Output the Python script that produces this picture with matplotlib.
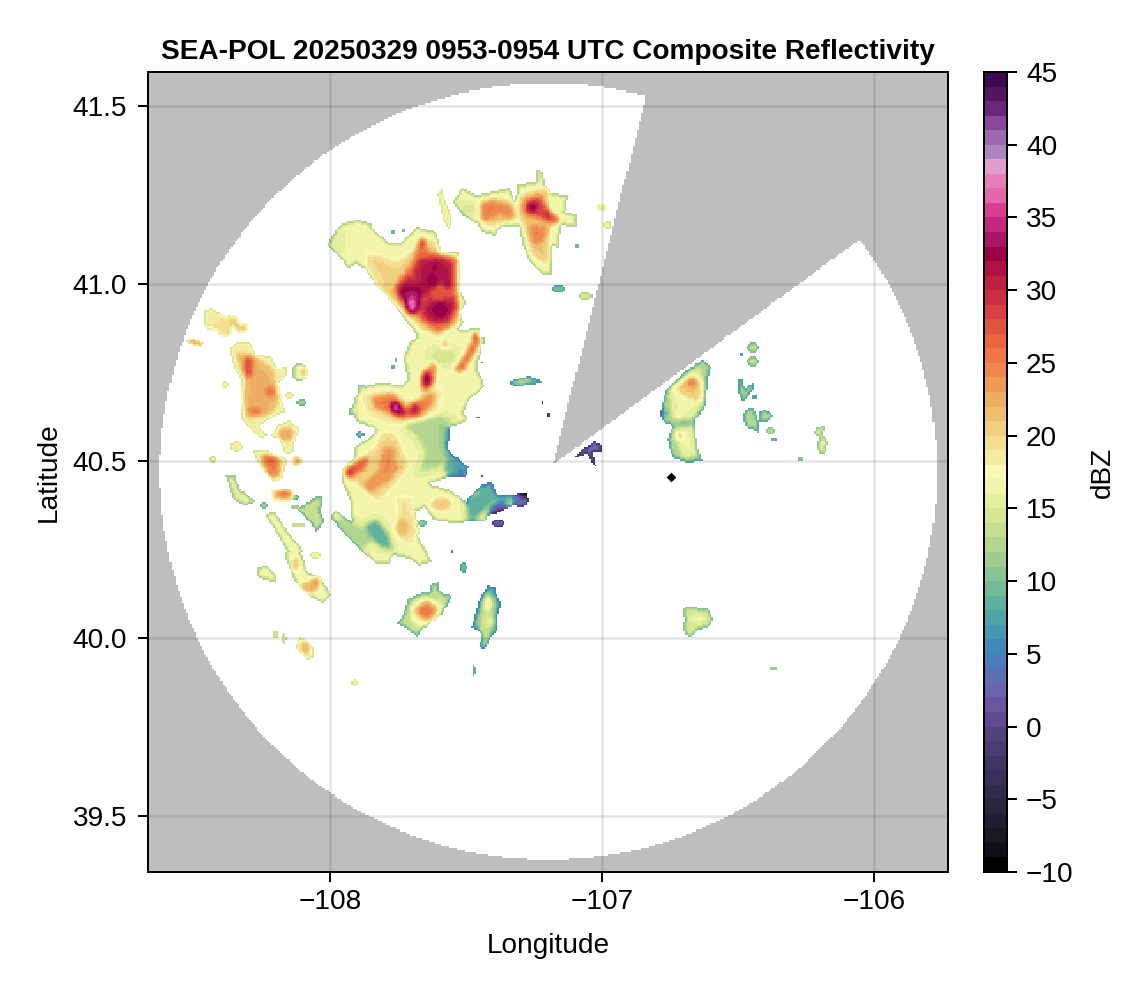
import numpy as np
import matplotlib
matplotlib.use("Agg")
import matplotlib.pyplot as plt
from matplotlib.colors import ListedColormap, BoundaryNorm
from matplotlib.path import Path

plt.rcParams['font.family'] = ['Liberation Sans', 'DejaVu Sans']
plt.rcParams['axes.unicode_minus'] = True

# ---------- colour table, one colour per dBZ bin, -10 .. 44 ----------
dbz_colors = """000000 100f17 191724 221d31 2a243f 322a4a 3a2f58 413563 4a3b72 534280
5e4b8f 6a55a0 6a63ad 5b6fb5 4c7cbb 4188ba 4597b2 4fa4a5 5fb09c 72bb96
89c494 9ecc91 b2d690 c6de8f d8e792 e6ef9f f3f5ab fbf9b6 f5eca4 f3de91
f1cf7e efbd6e edad63 ee9a55 ef884c ed7745 e9653f e15340 d54145 c93044
bd2043 ad1145 9a0048 a71766 c4287e d83f92 e268ab e57fb4 e09fcf ae84bf
9d69b0 88489a 6b2679 541462 3d0a50""".split()
dbz_bounds = list(range(-10, 46))
cbar_ticks = list(range(-10, 46, 5))
lon_ticks = [-108, -107, -106]
lat_ticks = [39.5, 40.0, 40.5, 41.0, 41.5]

# ---------- radar coverage ----------
radar_lon, radar_lat = -107.197, 40.47
range_lon, range_lat = 1.428, 1.094
blocked_sector_lon = [-107.18, -106.838, -105.0, -106.059]
blocked_sector_lat = [40.49, 41.527, 42.5, 41.121]
ship_lon, ship_lat = -106.746, 40.456

# ---------- echo regions: (dBZ, [(lon, lat), ...]) ----------
main_complex = [
 (16, [(-108.01,41.11),(-107.97,41.16),(-107.95,41.17),(-107.90,41.18),(-107.85,41.17),(-107.84,41.15),(-107.78,41.115),(-107.74,41.115),(-107.68,41.16),(-107.61,41.145),(-107.59,41.09),(-107.53,41.09),(-107.52,41.05),(-107.52,40.98),(-107.50,40.945),(-107.52,40.92),(-107.51,40.89),(-107.53,40.87),(-107.45,40.875),(-107.44,40.815),(-107.46,40.765),(-107.43,40.71),(-107.485,40.675),(-107.51,40.635),(-107.49,40.615),(-107.56,40.595),(-107.57,40.54),(-107.56,40.51),(-107.49,40.485),(-107.50,40.455),(-107.56,40.455),(-107.645,40.435),(-107.605,40.43),(-107.55,40.415),(-107.50,40.385),(-107.475,40.41),(-107.44,40.435),(-107.405,40.44),(-107.385,40.405),(-107.33,40.405),(-107.295,40.41),(-107.27,40.40),(-107.29,40.37),(-107.33,40.375),(-107.375,40.355),(-107.42,40.345),(-107.43,40.33),(-107.46,40.33),(-107.55,40.325),(-107.62,40.335),(-107.65,40.37),(-107.695,40.355),(-107.705,40.33),(-107.67,40.28),(-107.645,40.245),(-107.625,40.215),(-107.675,40.205),(-107.705,40.225),(-107.77,40.235),(-107.78,40.21),(-107.83,40.21),(-107.91,40.265),(-108.00,40.34),(-107.98,40.36),(-107.92,40.33),(-107.925,40.385),(-107.955,40.44),(-107.96,40.475),(-107.91,40.51),(-107.91,40.54),(-107.855,40.565),(-107.83,40.59),(-107.90,40.61),(-107.92,40.635),(-107.91,40.675),(-107.88,40.71),(-107.815,40.72),(-107.735,40.715),(-107.715,40.73),(-107.73,40.795),(-107.705,40.835),(-107.68,40.85),(-107.715,40.89),(-107.77,40.945),(-107.835,41.00),(-107.87,41.04),(-107.90,41.055),(-107.935,41.045),(-107.965,41.075)]),
 (20, [(-107.87,41.085),(-107.79,41.075),(-107.755,41.06),(-107.695,41.095),(-107.67,41.13),(-107.615,41.125),(-107.595,41.09),(-107.535,41.075),(-107.53,40.985),(-107.52,40.925),(-107.535,40.88),(-107.605,40.85),(-107.67,40.87),(-107.74,40.925),(-107.815,40.985),(-107.865,41.05)]),
 (26, [(-107.69,41.075),(-107.67,41.125),(-107.64,41.095),(-107.595,41.08),(-107.53,41.075),(-107.535,40.99),(-107.525,40.935),(-107.54,40.89),(-107.605,40.86),(-107.66,40.89),(-107.73,40.935),(-107.77,40.98),(-107.74,41.02),(-107.705,41.05)]),
 (31, [(-107.67,41.07),(-107.595,41.075),(-107.55,41.06),(-107.55,40.985),(-107.535,40.935),(-107.57,40.89),(-107.63,40.89),(-107.68,40.925),(-107.74,40.955),(-107.755,40.99),(-107.695,41.03)]),
 (24, [(-107.67,40.70),(-107.66,40.75),(-107.625,40.78),(-107.605,40.765),(-107.615,40.72),(-107.645,40.695)]),
 (26, [(-107.55,40.75),(-107.51,40.795),(-107.465,40.855),(-107.44,40.84),(-107.475,40.795),(-107.51,40.75)]),
 (19, [(-107.89,40.69),(-107.77,40.705),(-107.70,40.67),(-107.62,40.71),(-107.58,40.70),(-107.60,40.64),(-107.67,40.61),(-107.78,40.60),(-107.87,40.63)]),
 (25, [(-107.845,40.68),(-107.77,40.69),(-107.715,40.645),(-107.67,40.675),(-107.62,40.695),(-107.615,40.665),(-107.67,40.625),(-107.73,40.615),(-107.79,40.635),(-107.84,40.65)]),
 (32, [(-107.785,40.665),(-107.75,40.67),(-107.715,40.64),(-107.74,40.625),(-107.77,40.635)]),
 (20, [(-107.81,40.58),(-107.76,40.58),(-107.73,40.53),(-107.705,40.485),(-107.755,40.44),(-107.825,40.385),(-107.88,40.42),(-107.935,40.45),(-107.95,40.475),(-107.89,40.51),(-107.835,40.54)]),
 (24, [(-107.805,40.54),(-107.76,40.54),(-107.76,40.495),(-107.735,40.49),(-107.79,40.44),(-107.855,40.41),(-107.88,40.435),(-107.825,40.47)]),
 (27, [(-107.945,40.475),(-107.89,40.505),(-107.855,40.51),(-107.87,40.48),(-107.915,40.455),(-107.94,40.455)]),
 (19, [(-107.76,40.40),(-107.70,40.40),(-107.67,40.30),(-107.70,40.26),(-107.75,40.28)]),
 (12, [(-107.735,40.605),(-107.595,40.625),(-107.55,40.615),(-107.575,40.595),(-107.57,40.525),(-107.595,40.485),(-107.67,40.47),(-107.645,40.525),(-107.68,40.57)]),
 (8,  [(-107.58,40.595),(-107.56,40.595),(-107.565,40.53),(-107.495,40.485),(-107.505,40.455),(-107.565,40.455),(-107.58,40.48),(-107.57,40.51),(-107.58,40.57)]),
 (8,  [(-107.50,40.385),(-107.46,40.41),(-107.44,40.435),(-107.405,40.44),(-107.385,40.405),(-107.33,40.405),(-107.34,40.385),(-107.40,40.385),(-107.45,40.345),(-107.48,40.33),(-107.495,40.345)]),
 (1,  [(-107.405,40.375),(-107.365,40.385),(-107.34,40.375),(-107.375,40.355),(-107.42,40.345)]),
 (8,  [(-107.88,40.315),(-107.83,40.335),(-107.79,40.30),(-107.77,40.25),(-107.815,40.26),(-107.865,40.30)]),
 (12, [(-108.00,40.34),(-107.92,40.33),(-107.84,40.28),(-107.885,40.25)]),
]
north_band = [
 (18, [(-107.605,41.255),(-107.59,41.265),(-107.55,41.18),(-107.56,41.15),(-107.585,41.18)]),
 (16, [(-107.55,41.23),(-107.515,41.27),(-107.46,41.25),(-107.395,41.26),(-107.34,41.27),(-107.32,41.23),(-107.31,41.28),(-107.245,41.285),(-107.24,41.32),(-107.215,41.315),(-107.21,41.28),(-107.185,41.255),(-107.125,41.25),(-107.135,41.20),(-107.09,41.195),(-107.09,41.16),(-107.11,41.16),(-107.15,41.165),(-107.16,41.10),(-107.18,41.105),(-107.185,41.025),(-107.22,41.025),(-107.265,41.06),(-107.295,41.115),(-107.30,41.16),(-107.37,41.16),(-107.395,41.135),(-107.44,41.145),(-107.46,41.17),(-107.51,41.19)]),
 (21, [(-107.45,41.23),(-107.40,41.245),(-107.33,41.235),(-107.31,41.18),(-107.42,41.16),(-107.45,41.19)]),
 (21, [(-107.30,41.255),(-107.20,41.27),(-107.19,41.195),(-107.15,41.17),(-107.19,41.16),(-107.20,41.05),(-107.255,41.075),(-107.29,41.16),(-107.31,41.21)]),
 (25, [(-107.44,41.23),(-107.385,41.23),(-107.325,41.21),(-107.325,41.185),(-107.375,41.195),(-107.44,41.175)]),
 (25, [(-107.265,41.165),(-107.20,41.16),(-107.22,41.115),(-107.255,41.11)]),
 (28, [(-107.29,41.23),(-107.23,41.25),(-107.19,41.20),(-107.145,41.18),(-107.19,41.17),(-107.255,41.19),(-107.29,41.195)]),
 (10, [(-107.34,40.725),(-107.27,40.74),(-107.23,40.73),(-107.22,40.72),(-107.265,40.715),(-107.31,40.71),(-107.34,40.715)]),
 (2,  [(-107.10,40.51),(-107.07,40.535),(-107.025,40.555),(-107.00,40.545),(-107.00,40.525),(-107.035,40.525),(-107.02,40.48),(-107.035,40.495),(-107.055,40.52)]),
]
west_band = [
 (23, [(-108.53,40.84),(-108.505,40.845),(-108.465,40.835),(-108.47,40.82),(-108.515,40.83)]),
 (18, [(-108.37,40.815),(-108.34,40.835),(-108.295,40.835),(-108.27,40.80),(-108.215,40.795),(-108.195,40.76),(-108.16,40.765),(-108.16,40.74),(-108.19,40.72),(-108.17,40.65),(-108.16,40.64),(-108.22,40.62),(-108.26,40.60),(-108.23,40.57),(-108.26,40.565),(-108.325,40.615),(-108.33,40.675),(-108.325,40.73),(-108.35,40.76)]),
 (22, [(-108.35,40.805),(-108.285,40.80),(-108.21,40.76),(-108.185,40.675),(-108.215,40.63),(-108.305,40.62),(-108.325,40.675),(-108.31,40.73)]),
 (18, [(-108.195,40.60),(-108.15,40.615),(-108.11,40.59),(-108.13,40.555),(-108.13,40.525),(-108.165,40.52),(-108.185,40.56),(-108.215,40.57)]),
 (18, [(-108.285,40.53),(-108.23,40.53),(-108.155,40.505),(-108.175,40.45),(-108.21,40.44),(-108.26,40.485)]),
 (25, [(-108.25,40.52),(-108.185,40.51),(-108.185,40.455),(-108.22,40.455),(-108.245,40.485)]),
 (21, [(-108.22,40.42),(-108.135,40.42),(-108.12,40.39),(-108.165,40.385),(-108.21,40.385)]),
 (15, [(-108.385,40.46),(-108.35,40.46),(-108.33,40.42),(-108.27,40.385),(-108.31,40.375),(-108.355,40.39),(-108.375,40.44)]),
 (13, [(-108.12,40.365),(-108.05,40.40),(-108.025,40.40),(-108.035,40.355),(-108.02,40.33),(-108.05,40.30),(-108.08,40.335)]),
 (16, [(-108.24,40.35),(-108.20,40.355),(-108.155,40.30),(-108.10,40.25),(-108.105,40.24),(-108.08,40.185),(-108.035,40.175),(-107.995,40.12),(-108.025,40.10),(-108.08,40.12),(-108.13,40.16),(-108.165,40.23),(-108.16,40.25),(-108.21,40.315)]),
 (16, [(-108.27,40.20),(-108.23,40.205),(-108.195,40.175),(-108.195,40.16),(-108.245,40.165),(-108.27,40.175)]),
 (18, [(-108.13,39.975),(-108.11,40.005),(-108.065,39.985),(-108.06,39.945),(-108.085,39.94)]),
]
south_band = [
 (13, [(-107.725,40.08),(-107.715,40.11),(-107.66,40.13),(-107.63,40.13),(-107.63,40.15),(-107.60,40.16),(-107.595,40.13),(-107.55,40.12),(-107.585,40.07),(-107.66,40.025),(-107.68,40.005),(-107.73,40.035),(-107.76,40.04),(-107.735,40.06)]),
 (18, [(-107.705,40.095),(-107.66,40.115),(-107.585,40.10),(-107.605,40.055),(-107.67,40.03),(-107.705,40.055)]),
 (24, [(-107.69,40.08),(-107.64,40.11),(-107.605,40.08),(-107.63,40.05),(-107.67,40.06)]),
 (9,  [(-107.48,40.03),(-107.45,40.11),(-107.42,40.15),(-107.395,40.145),(-107.385,40.12),(-107.37,40.095),(-107.385,40.06),(-107.385,40.025),(-107.41,40.0),(-107.43,39.97),(-107.45,39.975),(-107.44,40.01),(-107.46,40.025)]),
 (14, [(-107.455,40.055),(-107.42,40.13),(-107.40,40.11),(-107.395,40.055),(-107.41,40.025),(-107.42,39.99),(-107.435,39.98)]),
 (14, [(-106.705,40.075),(-106.695,40.09),(-106.61,40.085),(-106.59,40.055),(-106.61,40.03),(-106.65,40.025),(-106.67,40.005),(-106.695,40.01),(-106.705,40.035),(-106.695,40.05)]),
]
east_band = [
 (12, [(-106.785,40.64),(-106.77,40.685),(-106.76,40.705),(-106.70,40.75),(-106.63,40.785),(-106.60,40.765),(-106.61,40.73),(-106.62,40.655),(-106.66,40.61),(-106.65,40.54),(-106.63,40.50),(-106.69,40.495),(-106.74,40.51),(-106.76,40.56),(-106.74,40.60),(-106.775,40.61)]),
 (16, [(-106.755,40.70),(-106.64,40.765),(-106.62,40.68),(-106.665,40.62),(-106.74,40.62)]),
 (16, [(-106.74,40.59),(-106.665,40.60),(-106.645,40.515),(-106.705,40.51)]),
 (21, [(-106.74,40.705),(-106.67,40.745),(-106.63,40.72),(-106.645,40.665),(-106.695,40.68)]),
 (11, [(-106.50,40.73),(-106.485,40.73),(-106.475,40.705),(-106.445,40.72),(-106.44,40.705),(-106.47,40.675),(-106.485,40.67),(-106.50,40.695)]),
 (12, [(-106.485,40.615),(-106.475,40.645),(-106.445,40.65),(-106.425,40.615),(-106.42,40.64),(-106.40,40.645),(-106.37,40.63),(-106.39,40.61),(-106.42,40.61),(-106.425,40.58),(-106.465,40.595)]),
 (15, [(-106.21,40.595),(-106.18,40.60),(-106.19,40.575),(-106.17,40.555),(-106.18,40.52),(-106.20,40.52),(-106.21,40.54),(-106.20,40.57),(-106.225,40.575)]),
]

# ---------- small cells: lon, lat, half-width (deg), half-height (deg), dBZ ----------
small_cells = [
 (-107.70,40.975,.045,.017,33),(-107.70,40.94,.02,.025,37),(-107.625,41.01,.02,.02,33),(-107.595,40.925,.03,.02,33),
 (-107.595,40.975,.03,.02,27),(-107.65,40.955,.015,.015,28),(-107.66,41.115,.012,.012,31),
 (-107.62,40.965,.015,.012,27),(-107.56,40.975,.012,.02,27),(-107.66,40.925,.01,.012,28),(-107.695,41.017,.012,.01,28),
 (-107.615,41.045,.015,.01,33),(-107.57,40.995,.008,.012,33),
 (-107.645,40.73,.018,.025,33),(-107.465,40.85,.012,.012,31),(-107.585,40.795,.045,.02,14),(-107.575,40.83,.012,.012,24),
 (-107.757,40.65,.012,.012,38),(-107.69,40.647,.02,.017,31),(-107.925,40.468,.01,.012,31),(-107.515,40.47,.012,.012,4),
 (-107.59,40.378,.04,.02,21),(-107.30,40.39,.03,.02,3),(-107.285,40.403,.014,.006,-6),(-107.735,40.313,.025,.025,22),
 (-107.255,41.217,.02,.015,33),(-107.20,41.195,.008,.008,33),(-107.49,41.21,.03,.012,14),
 (-107.00,41.215,.018,.01,20),(-106.98,41.165,.012,.012,18),(-107.09,41.105,.006,.006,13),(-107.16,40.985,.022,.012,11),
 (-107.06,40.965,.025,.01,16),(-107.77,41.145,.008,.006,13),(-107.73,41.15,.008,.006,13),(-107.295,40.725,.03,.006,15),
 (-107.03,40.54,.012,.008,5),(-107.195,40.63,.008,.005,2),(-107.22,40.665,.004,.003,-1),(-107.51,40.20,.012,.015,11),
 (-107.66,40.325,.018,.01,12),(-107.89,40.575,.018,.008,11),(-107.38,40.325,.025,.01,3),
 (-108.42,40.893,.045,.026,19),(-108.36,40.893,.028,.018,20),(-108.325,40.875,.026,.016,20),(-108.44,40.915,.026,.013,18),(-108.385,40.865,.028,.014,20),
 (-108.30,40.765,.02,.035,26),(-108.22,40.695,.02,.015,26),(-108.275,40.64,.025,.012,26),(-108.30,40.767,.007,.025,30),
 (-108.11,40.75,.03,.025,15),(-108.10,40.75,.015,.015,22),(-108.385,40.715,.012,.009,18),(-108.15,40.685,.016,.01,18),(-108.105,40.665,.018,.009,13),
 (-108.16,40.575,.03,.018,23),(-108.345,40.54,.024,.014,18),(-108.43,40.505,.014,.009,17),(-108.22,40.505,.02,.012,27),(-108.12,40.50,.02,.014,22),
 (-108.17,40.408,.022,.008,28),(-108.125,40.397,.012,.007,10),(-108.24,40.375,.013,.009,13),(-108.13,40.37,.016,.007,16),(-108.115,40.32,.024,.007,17),
 (-108.125,40.21,.015,.02,22),(-108.075,40.145,.035,.018,22),(-108.05,40.16,.012,.01,27),(-108.055,40.235,.02,.01,18),
 (-108.20,40.01,.013,.009,17),(-108.17,40.00,.009,.014,17),(-108.09,39.975,.018,.02,22),(-107.91,39.875,.012,.008,18),
 (-107.65,40.075,.018,.018,26),(-107.42,40.10,.012,.018,21),(-107.41,40.045,.01,.012,19),(-107.47,39.91,.006,.016,12),
 (-106.65,40.055,.035,.012,17),(-106.37,39.915,.014,.005,15),
 (-106.67,40.72,.02,.012,26),(-106.715,40.57,.012,.012,22),(-106.70,40.605,.035,.005,9),(-106.775,40.635,.012,.012,6),(-106.72,40.625,.004,.004,29),
 (-106.445,40.82,.02,.016,13),(-106.445,40.78,.02,.016,13),(-106.485,40.80,.008,.005,11),(-106.44,40.68,.01,.006,11),
 (-106.38,40.585,.018,.01,14),(-106.37,40.56,.011,.006,12),(-106.27,40.505,.013,.006,14),
 (-107.92,40.64,.012,.012,14),(-107.885,40.705,.015,.01,14),(-107.44,40.84,.012,.01,15),
 (-107.77,40.765,.006,.006,12),(-107.76,40.785,.005,.005,13),(-107.44,40.777,.004,.004,9),(-107.55,40.245,.005,.004,8),
 (-107.455,40.622,.005,.004,7),(-107.44,40.457,.004,.004,3),(-107.98,41.12,.02,.02,15),
]

# ---------- grids ----------
echo_lon_edges = np.arange(-108.60, -105.90, 0.0065)
echo_lat_edges = np.arange(39.80, 41.40, 0.005)
cover_lon_edges = np.arange(-108.68, -105.72, 0.0075)
cover_lat_edges = np.arange(39.34, 41.60, 0.0058)


def centers(e):
    return 0.5 * (e[:-1] + e[1:])


def erode(m):
    return m & np.roll(m, 1, 0) & np.roll(m, -1, 0) & np.roll(m, 1, 1) & np.roll(m, -1, 1)


elon, elat = np.meshgrid(centers(echo_lon_edges), centers(echo_lat_edges))
field = np.full(elon.shape, np.nan)
pts = np.column_stack([elon.ravel(), elat.ravel()])
for dbz, verts in main_complex + north_band + west_band + south_band + east_band:
    inside = Path(np.array(verts)).contains_points(pts).reshape(elon.shape)
    field[inside] = dbz
for lo, la, rx, ry, dbz in small_cells:
    field[((elon - lo) / rx) ** 2 + ((elat - la) / ry) ** 2 <= 1] = dbz

mask = ~np.isnan(field)
z = np.where(mask, field, 0.0)
w = mask.astype(float)
for _ in range(3):
    num = np.zeros_like(z)
    den = np.zeros_like(z)
    for dy in (-1, 0, 1):
        for dx in (-1, 0, 1):
            num += np.roll(np.roll(z * w, dy, 0), dx, 1)
            den += np.roll(np.roll(w, dy, 0), dx, 1)
    z = np.where(mask, num / np.maximum(den, 1), 0.0)
inner1 = erode(mask)
inner2 = erode(inner1)
z[mask & ~inner1] -= 4
z[inner1 & ~inner2] -= 1.5
echo = np.ma.masked_where(~mask, z)

clon, clat = np.meshgrid(centers(cover_lon_edges), centers(cover_lat_edges))
in_range = ((clon - radar_lon) / range_lon) ** 2 + ((clat - radar_lat) / range_lat) ** 2 <= 1
sector = Path(np.column_stack([blocked_sector_lon, blocked_sector_lat])).contains_points(
    np.column_stack([clon.ravel(), clat.ravel()])).reshape(clon.shape)
coverage = np.ma.masked_where(~(in_range & ~sector), np.ones(clon.shape))

# ---------- figure ----------
W, H = 1146, 990
fig = plt.figure(figsize=(W / 200, H / 200), dpi=200, facecolor='white')
ax = fig.add_axes([148 / W, 1 - 872 / H, 800 / W, 800 / H], facecolor='#bebebe')
ax.pcolormesh(cover_lon_edges, cover_lat_edges, coverage, cmap=ListedColormap(['white']), vmin=0, vmax=2, zorder=1)
cmap = ListedColormap(['#' + c for c in dbz_colors])
norm = BoundaryNorm(dbz_bounds, cmap.N)
mesh = ax.pcolormesh(echo_lon_edges, echo_lat_edges, echo, cmap=cmap, norm=norm, zorder=1.2)
ax.scatter([ship_lon], [ship_lat], marker='D', s=6, color='black', linewidths=0, zorder=4)

ax.set_xlim(-108.669, -105.728)
ax.set_ylim(39.342, 41.596)
ax.set_xticks(lon_ticks)
ax.set_yticks(lat_ticks)
ax.set_yticklabels(['39.5', '40.0', '40.5', '41.0', '41.5'])
ax.set_axisbelow(False)
ax.grid(True, color='black', alpha=0.1, linewidth=0.9, zorder=2.5)
ax.tick_params(axis='x', length=3.6, width=0.72, labelsize=10.1, pad=2.5)
ax.tick_params(axis='y', length=3.6, width=0.72, labelsize=10.1, pad=4)
for s in ax.spines.values():
    s.set_linewidth(0.72)
ax.set_xlabel('Longitude', fontsize=10.1, labelpad=6.5)
ax.set_ylabel('Latitude', fontsize=10.1, labelpad=4)
ax.set_title('SEA-POL 20250329 0953-0954 UTC Composite Reflectivity', fontsize=10.1, fontweight='bold', pad=4.8)

cax = fig.add_axes([984 / W, 1 - 872 / H, 23 / W, 800 / H])
cb = fig.colorbar(mesh, cax=cax, ticks=cbar_ticks)
cb.outline.set_linewidth(0.72)
cax.minorticks_off()
cax.tick_params(length=3.6, width=0.72, labelsize=10.1, pad=3.2)
cb.set_label('dBZ', fontsize=10.1, labelpad=6)

fig.savefig('out.png', dpi=200)
